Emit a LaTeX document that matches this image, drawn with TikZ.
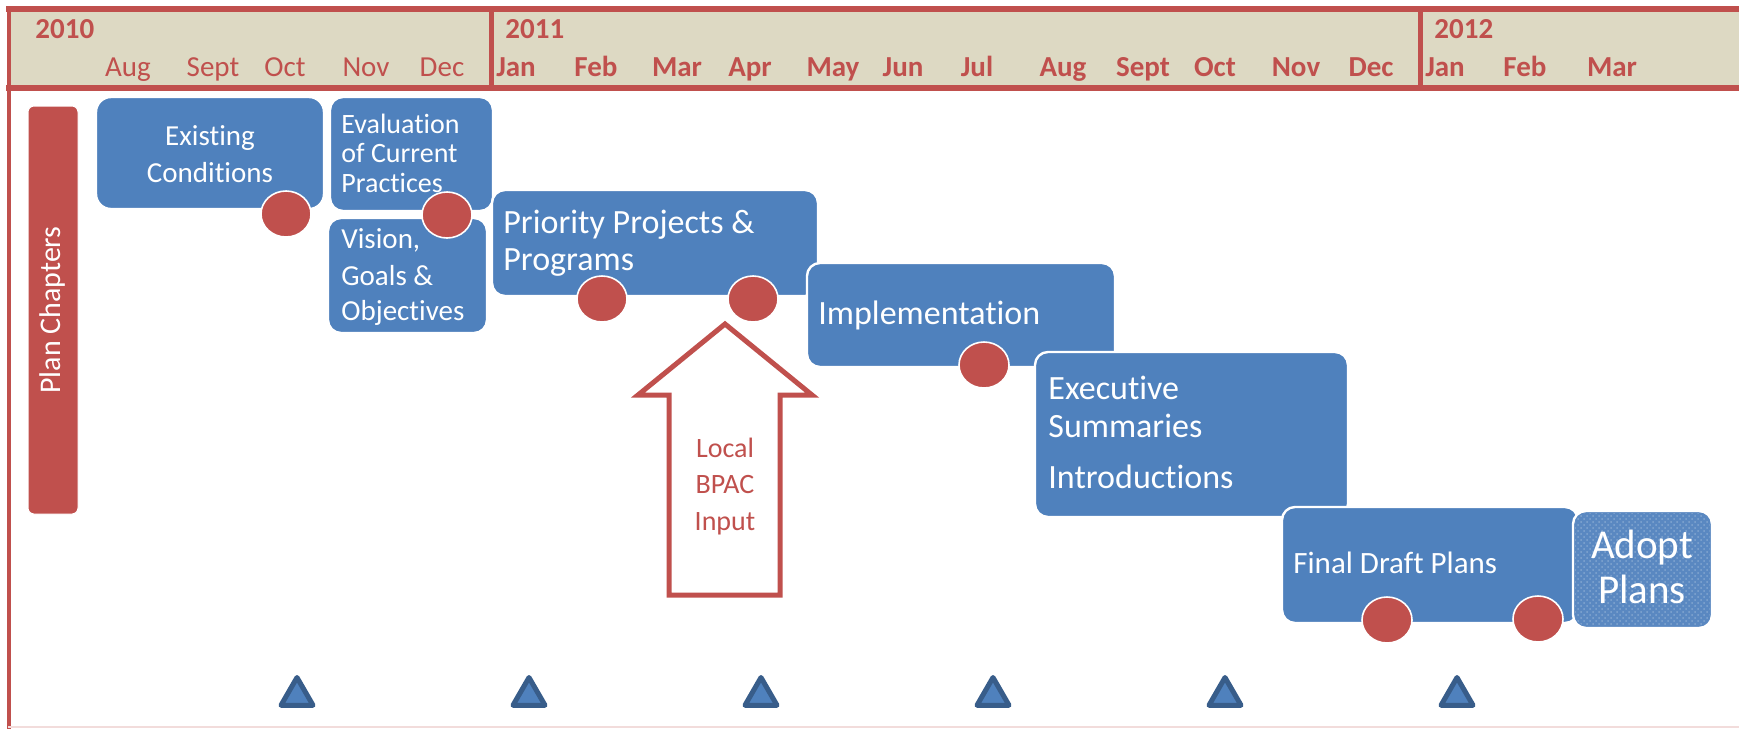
\documentclass[tikz,border=0pt]{standalone}
\usepackage{fontspec}
\setmainfont{Carlito}[Ligatures=NoCommon]
\usetikzlibrary{fit,shapes.geometric,patterns}
\definecolor{hdrred}{HTML}{C0504D}
\definecolor{hdrtan}{HTML}{DDD9C3}
\definecolor{boxblue}{HTML}{4F81BD}
\definecolor{tridark}{HTML}{385D8A}
\definecolor{framepink}{HTML}{F2DCDB}
\definecolor{adoptblue}{HTML}{5A88C1}
\begin{document}
\begin{tikzpicture}[x=0.5pt,y=-0.5pt,
  chapbox/.style={fill=boxblue, draw=white, line width=1.2pt, rounded corners=6.5pt, inner sep=0pt},
  chapdot/.style={ellipse, fill=hdrred, draw=white, line width=0.8pt, minimum width=25pt, minimum height=23pt, inner sep=0pt},
  milestone/.style={regular polygon, regular polygon sides=3, minimum size=18.5pt, fill=boxblue, draw=tridark, line width=2.5pt, line join=round, inner sep=0pt},
  yr/.style={font=\fontsize{14.5}{17}\selectfont\bfseries, text=hdrred, anchor=base west, inner sep=0pt},
  mon/.style={font=\fontsize{14.5}{17}\selectfont, text=hdrred, anchor=base, inner sep=0pt},
  monb/.style={font=\fontsize{14.5}{17}\selectfont\bfseries, text=hdrred, anchor=base, inner sep=0pt},
  wtext/.style={text=white, anchor=base west, inner sep=0pt},
  wctext/.style={text=white, anchor=base, inner sep=0pt},
  rtext/.style={text=hdrred, anchor=base, inner sep=0pt, font=\fontsize{14}{16}\selectfont},
]
\useasboundingbox (0,0) rectangle (1739,729);
\clip (0,0) rectangle (1739,729);
% header
\fill[hdrtan] (8,9) rectangle (1739,88);
\draw[hdrred, line width=3pt] (6,9) -- (1739,9);
\draw[hdrred, line width=3pt] (6,88) -- (1739,88);
\draw[hdrred, line width=2.5pt] (491,9) -- (491,88);
\draw[hdrred, line width=2.5pt] (1420,9) -- (1420,88);
\draw[hdrred, line width=2pt] (8.5,6) -- (8.5,729);
\draw[framepink, line width=0.8pt] (8,727) -- (1739,727);
% years
\node[yr] (y2010) at (35,38) {2010};
\node[yr] (y2011) at (505,38) {2011};
\node[yr] (y2012) at (1434,38) {2012};
% months
\node[mon] (m1) at (128,76) {Aug};
\node[mon] (m2) at (213,76) {Sept};
\node[mon] (m3) at (285,76) {Oct};
\node[mon] (m4) at (366,76) {Nov};
\node[mon] (m5) at (442,76) {Dec};
\node[monb] (m6) at (516,76) {Jan};
\node[monb] (m7) at (596,76) {Feb};
\node[monb] (m8) at (677,76) {Mar};
\node[monb] (m9) at (750,76) {Apr};
\node[monb] (m10) at (833,76) {May};
\node[monb] (m11) at (903,76) {Jun};
\node[monb] (m12) at (977,76) {Jul};
\node[monb] (m13) at (1063,76) {Aug};
\node[monb] (m14) at (1143,76) {Sept};
\node[monb] (m15) at (1215,76) {Oct};
\node[monb] (m16) at (1296,76) {Nov};
\node[monb] (m17) at (1371,76) {Dec};
\node[monb] (m18) at (1445,76) {Jan};
\node[monb] (m19) at (1525,76) {Feb};
\node[monb] (m20) at (1612,76) {Mar};
% Plan Chapters bar
\node[fit={(28,106) (78,514)}, fill=hdrred, draw=white, line width=0.5pt, rounded corners=3pt, inner sep=0pt] (plan) {};
\node[rotate=90, text=white, inner sep=0pt, font=\fontsize{15}{18}\selectfont] (plantext) at (53,310) {Plan Chapters};
% Existing Conditions
\node[chapbox, rounded corners=7.5pt, fit={(96,97) (324,209)}] (exist) {};
\node[wctext, font=\fontsize{14.5}{17}\selectfont] (exist1) at (210,145) {Existing};
\node[wctext, font=\fontsize{14.5}{17}\selectfont] (exist2) at (210,182) {Conditions};
\node[chapdot] (existdot) at (286,214) {};
% Vision
\node[chapbox, fit={(328,218) (487,333)}] (vision) {};
\node[wtext, font=\fontsize{14.5}{17}\selectfont] (vis1) at (341,248) {Vision,};
\node[wtext, font=\fontsize{14.5}{17}\selectfont] (vis2) at (341,285) {Goals \&};
\node[wtext, font=\fontsize{14.5}{17}\selectfont] (vis3) at (341,320) {Objectives};
% Evaluation
\node[chapbox, fit={(330,97) (493,211)}] (eval) {};
\node[wtext, font=\fontsize{14}{16}\selectfont] (eval1) at (341,133) {Evaluation};
\node[wtext, font=\fontsize{14}{16}\selectfont] (eval2) at (341,162) {of Current};
\node[wtext, font=\fontsize{14}{16}\selectfont] (eval3) at (341,192) {Practices};
\node[chapdot] (evaldot) at (447,215) {};
% Priority
\node[chapbox, fit={(492,190) (818,296)}] (prio) {};
\node[wtext, font=\fontsize{17}{20}\selectfont] (prio1) at (503,233) {Priority Projects \&};
\node[wtext, font=\fontsize{17}{20}\selectfont] (prio2) at (503,270) {Programs};
\node[chapdot] (priodot1) at (602,299) {};
\node[chapdot] (priodot2) at (753,299) {};
% Local BPAC Input arrow
\draw[hdrred, fill=white, line width=2.5pt, line join=miter]
  (725,324) -- (812,395) -- (780,395) -- (780,595) -- (669,595) -- (669,395) -- (638,395) -- cycle;
\node[rtext] (bpac1) at (725,457) {Local};
\node[rtext] (bpac2) at (725,493) {BPAC};
\node[rtext] (bpac3) at (725,530) {Input};
% Implementation
\node[chapbox, fit={(807,263) (1115,367)}] (impl) {};
\node[wtext, font=\fontsize{17}{20}\selectfont] (impl1) at (818,324) {Implementation};
\node[chapdot] (impldot) at (984,365) {};
% Executive Summaries
\node[chapbox, fit={(1035,352) (1348,517)}] (exec) {};
\node[wtext, font=\fontsize{17}{20}\selectfont] (exec1) at (1048,399) {Executive};
\node[wtext, font=\fontsize{17}{20}\selectfont] (exec2) at (1048,437) {Summaries};
\node[wtext, font=\fontsize{17}{20}\selectfont] (exec3) at (1048,488) {Introductions};
% Final Draft Plans
\node[chapbox, fit={(1282,507) (1578,623)}] (final) {};
\node[wtext, font=\fontsize{15.5}{18}\selectfont] (final1) at (1293,573) {Final Draft Plans};
\node[chapdot] (finaldot1) at (1387,620) {};
\node[chapdot] (finaldot2) at (1538,619) {};
% Adopt Plans
\node[chapbox, fill=adoptblue, fit={(1573,511) (1712,628)}] (adopt) {};
\fill[pattern=crosshatch dots, pattern color=boxblue!70!white, rounded corners=6pt] (1575,513) rectangle (1710,626);
\node[wctext, font=\fontsize{20.5}{24}\selectfont] (adopt1) at (1642,558) {Adopt};
\node[wctext, font=\fontsize{20.5}{24}\selectfont] (adopt2) at (1642,603) {Plans};
% milestones
\node[milestone] (ms1) at (297,696) {};
\node[milestone] (ms2) at (529,696) {};
\node[milestone] (ms3) at (761,696) {};
\node[milestone] (ms4) at (993,696) {};
\node[milestone] (ms5) at (1225,696) {};
\node[milestone] (ms6) at (1457,696) {};
\end{tikzpicture}
\end{document}
